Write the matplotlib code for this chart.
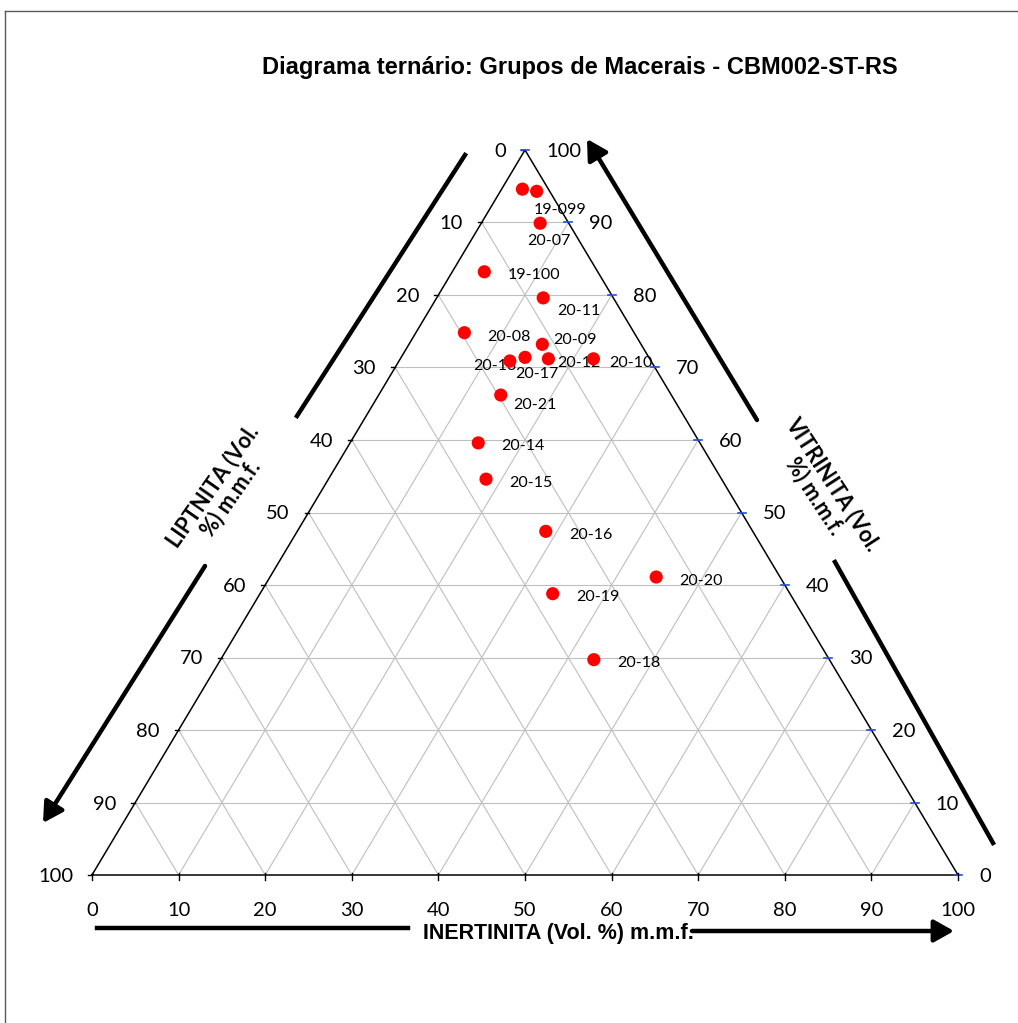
import matplotlib
matplotlib.use('Agg')
import matplotlib.pyplot as plt
from matplotlib.lines import Line2D

plt.rcParams['font.family'] = ['Lato', 'DejaVu Sans']

# maceral group composition (vol. %, m.m.f.)
SAMPLES = ['19-099', '', '20-07', '19-100', '20-11', '20-08', '20-09', '20-13', '20-17',
           '20-12', '20-10', '20-21', '20-14', '20-15', '20-16', '20-20', '20-19', '20-18']
VITRINITA = [94.6, 94.3, 89.9, 83.2, 79.6, 74.8, 73.2, 70.9, 71.4,
             71.2, 71.2, 66.2, 59.6, 54.6, 47.4, 41.1, 38.8, 29.7]
INERTINITA = [2.4, 4.2, 6.8, 3.7, 12.3, 5.6, 15.4, 12.8, 14.3,
              17.1, 22.3, 14.1, 14.8, 18.2, 28.7, 44.6, 33.8, 43.1]
LIPTINITA = [3.0, 1.5, 3.3, 13.1, 8.1, 19.6, 11.4, 16.3, 14.3,
             11.7, 6.5, 19.7, 25.6, 27.2, 23.9, 14.3, 27.4, 27.2]
TICKS = list(range(0, 101, 10))

# label placement (pixels, relative to the marker)
LABEL_OFFSET = {'19-099': (11, -19), '20-07': (-13, -16), '19-100': (23, -2), '20-11': (14, -12),
                '20-08': (23, -3), '20-09': (11, 6), '20-13': (-37, -4), '20-17': (-10, -15),
                '20-12': (9, -3), '20-10': (16, -3), '20-21': (12, -8)}
DEFAULT_OFFSET = (23, -2)

W, H = 1018, 1023
X0, Y0 = 92, 875          # pixel of the (0, 0) corner
SX, SY = 8.66, 7.25       # pixels per unit


def tern(v, i):
    # cartesian position: bottom-left = liptinita, bottom-right = inertinita, top = vitrinita
    return i + v / 2.0, v


fig = plt.figure(figsize=(W / 100, H / 100), dpi=100)
ax = fig.add_axes([0, 0, 1, 1])
ax.set_xlim(-X0 / SX, (W - X0) / SX)
ax.set_ylim(-(H - Y0) / SY, Y0 / SY)
ax.set_axis_off()

GRID = '#BFBFBF'
for k in TICKS[1:-1]:
    # constant vitrinita
    ax.plot([k / 2, 100 - k / 2], [k, k], color=GRID, lw=0.8, zorder=1)
    # constant inertinita
    ax.plot([k, k + (100 - k) / 2], [0, 100 - k], color=GRID, lw=0.8, zorder=1)
    # constant liptinita
    ax.plot([100 - k, (100 - k) / 2], [0, 100 - k], color=GRID, lw=0.8, zorder=1)

ax.plot([0, 100, 50, 0], [0, 0, 100, 0], color='black', lw=1.1, zorder=2)

# ticks and tick labels
dx, dy = 4 / SX, 5 / SY
for k in TICKS:
    # left axis: liptinita
    x, y = tern(100 - k, 0)
    ax.plot([x - dx, x], [y, y], color='black', lw=1.0, zorder=2)
    ax.annotate(str(k), (x, y), xytext=(-19, 0), textcoords='offset pixels',
                ha='right', va='center_baseline', fontsize=14.5)
    # right axis: vitrinita
    x, y = tern(k, 100 - k)
    ax.plot([x - dx, x + dx], [y, y], color='#1F4FE0', lw=1.2, zorder=2)
    ax.annotate(str(k), (x, y), xytext=(21, 0), textcoords='offset pixels',
                ha='left', va='center_baseline', fontsize=14.5)
    # bottom axis: inertinita
    x, y = tern(0, k)
    ax.plot([x, x], [y + 0.4 * dy, y - dy], color='black', lw=1.0, zorder=2)
    ax.annotate(str(k), (x, y), xytext=(0, -34), textcoords='offset pixels',
                ha='center', va='center_baseline', fontsize=14.5)

# samples
xs, ys = [], []
for v, i in zip(VITRINITA, INERTINITA):
    x, y = tern(v, i)
    xs.append(x)
    ys.append(y)
ax.scatter(xs, ys, s=90, color='#FF0000', edgecolors='none', zorder=4)
for name, x, y in zip(SAMPLES, xs, ys):
    if not name:
        continue
    off = LABEL_OFFSET.get(name, DEFAULT_OFFSET)
    ax.annotate(name, (x, y), xytext=off, textcoords='offset pixels',
                ha='left', va='center_baseline', fontsize=11.5, zorder=3)


def px(p):
    return (p[0] - X0) / SX, (Y0 - p[1]) / SY


ARROW = dict(arrowstyle='-|>,head_length=0.8,head_width=0.45', lw=3.2, color='black',
             mutation_scale=15, shrinkA=0, shrinkB=0)

# bottom axis title and arrow
ax.add_line(Line2D(*zip(px((97, 928)), px((408, 928))), color='black', lw=3.2))
ax.annotate('', xy=px((954, 931)), xytext=px((692, 931)), arrowprops=ARROW)
ax.text(*px((558, 933)), 'INERTINITA (Vol. %) m.m.f.', ha='center', va='center',
        fontsize=15.5, fontweight='bold', family='Liberation Sans')

# left axis title and arrow
ax.add_line(Line2D(*zip(px((465, 155)), px((297, 416))), color='black', lw=3.2))
ax.annotate('', xy=px((43, 823)), xytext=px((205, 566)), arrowprops=ARROW)
ax.text(*px((222, 492)), 'LIPTNITA (Vol.\n%) m.m.f.', ha='center', va='center',
        rotation=55, rotation_mode='anchor', fontsize=15.5, fontweight='bold',
        linespacing=1.0)

# right axis title and arrow
ax.annotate('', xy=px((587, 139)), xytext=px((757, 420)), arrowprops=ARROW)
ax.add_line(Line2D(*zip(px((835, 562)), px((993, 843))), color='black', lw=3.2))
ax.text(*px((824, 490)), 'VITRINITA (Vol.\n%) m.m.f.', ha='center', va='center',
        rotation=-57, rotation_mode='anchor', fontsize=15.5, fontweight='bold',
        linespacing=1.0)

fig.text(580 / W, 1 - 68 / H, 'Diagrama ternário: Grupos de Macerais - CBM002-ST-RS',
         ha='center', va='center', fontsize=17, fontweight='bold', family='Liberation Sans')

# chart area frame
fig.add_artist(Line2D([5 / W, 1], [1 - 11 / H, 1 - 11 / H], color='#595959', lw=1))
fig.add_artist(Line2D([5 / W, 5 / W], [1 - 11 / H, 0], color='#595959', lw=1))

fig.savefig('out.png', dpi=100)
